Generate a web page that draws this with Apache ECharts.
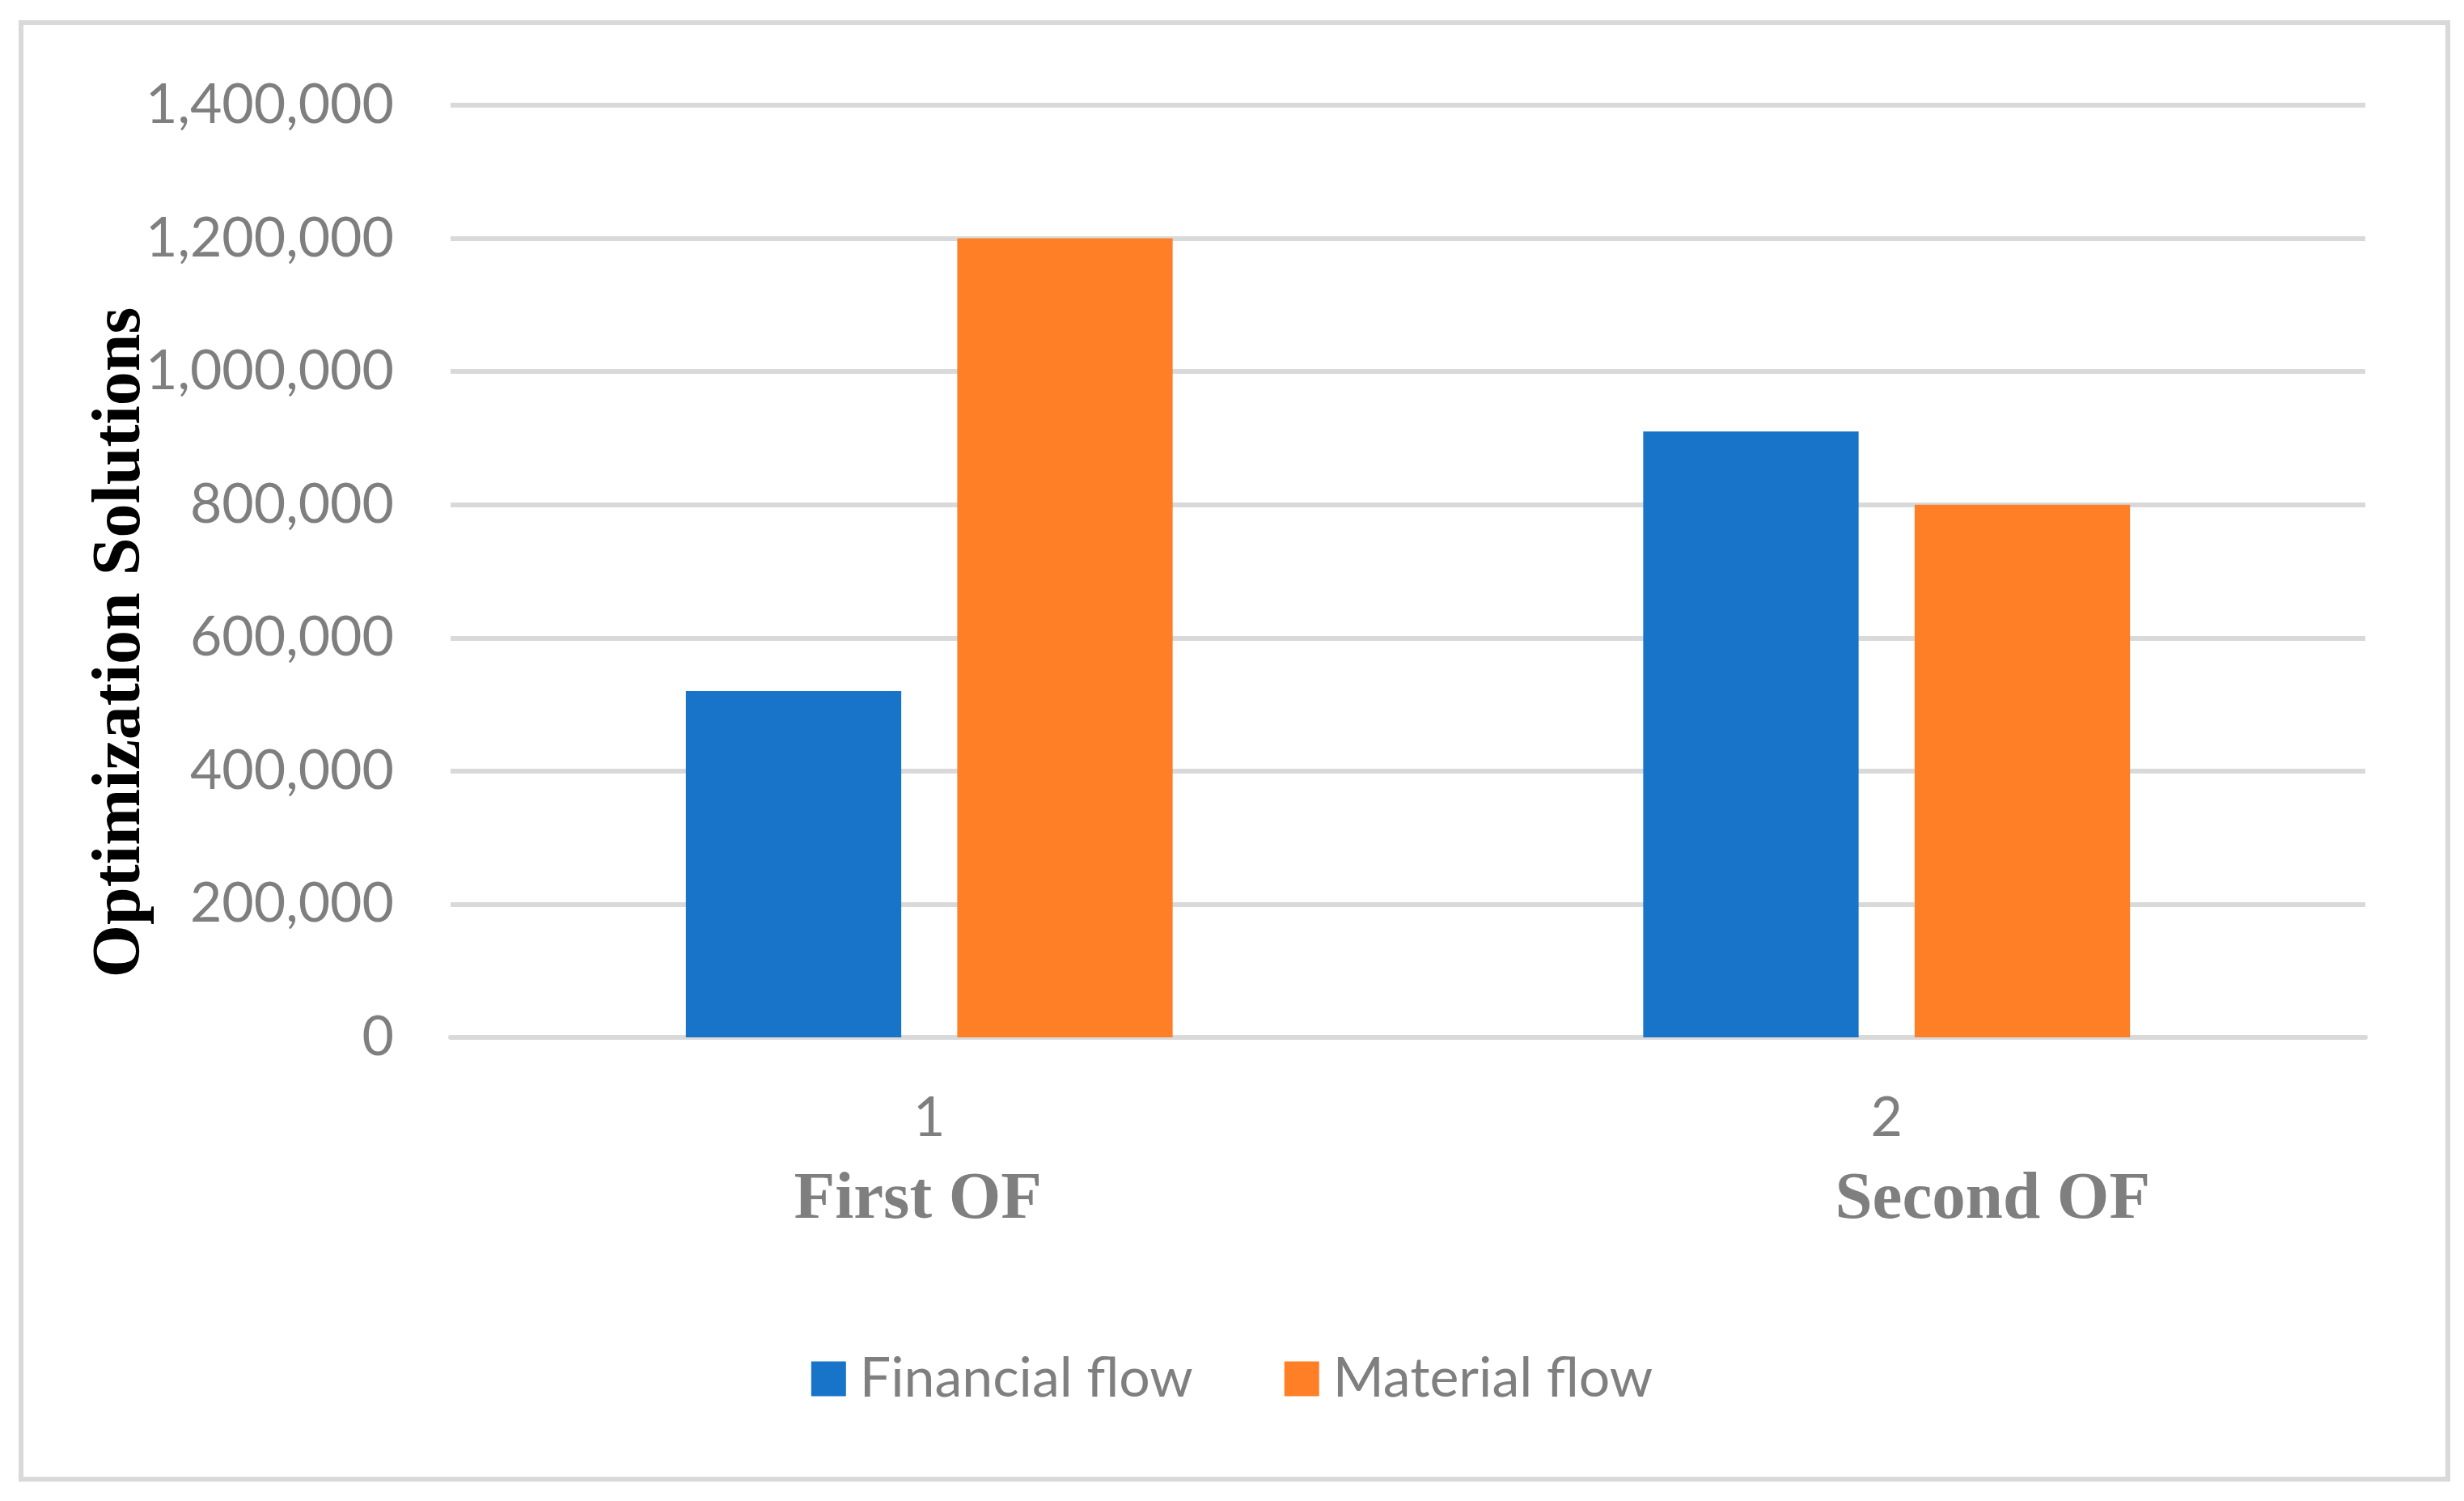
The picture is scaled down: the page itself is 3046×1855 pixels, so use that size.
<!DOCTYPE html>
<html>
<head>
<meta charset="utf-8">
<script src="https://cdn.jsdelivr.net/npm/echarts@6/dist/echarts.min.js"></script>
<style>html,body{margin:0;padding:0;background:#fff}#c{width:3046px;height:1855px}</style>
</head>
<body>
<div id="c"></div>
<script>
const categories = ['1', '2'];
const ofLabels = ['First OF', 'Second OF'];
const financialFlow = [520000, 910000];
const materialFlow = [1200000, 800000];
const seriesNames = ['Financial flow', 'Material flow'];

const chart = echarts.init(document.getElementById('c'));
const gray = '#7f7f7f';
const sans = 'Lato';
chart.setOption({
  animation: false,
  backgroundColor: '#fff',
  graphic: [{
    type: 'rect', left: 23, top: 25,
    shape: { width: 3000, height: 1800 },
    style: { fill: 'none', stroke: '#d9d9d9', lineWidth: 6 }
  }],
  grid: { left: 557, right: 122, top: 130, bottom: 573, containLabel: false },
  legend: {
    bottom: 112, left: 'center',
    itemWidth: 43, itemHeight: 43, itemGap: 113,
    icon: 'rect',
    textStyle: { fontFamily: sans, fontSize: 68, color: gray, padding: [0, 0, 0, 12] },
    data: seriesNames
  },
  xAxis: [{
    type: 'category', data: categories,
    axisLine: { lineStyle: { color: '#d9d9d9', width: 6 } },
    axisTick: { show: false },
    axisLabel: { fontFamily: sans, fontSize: 68, color: gray, margin: 66 }
  }, {
    type: 'category', data: ofLabels, position: 'bottom',
    axisLine: { show: false }, axisTick: { show: false }, splitLine: { show: false },
    axisLabel: {
      margin: 160,
      formatter: (v, i) => i === 1 ? '{b|' + v + '}' : '{a|' + v + '}',
      rich: {
        a: { fontFamily: 'Liberation Serif', fontWeight: 'bold', fontSize: 83, color: gray, padding: [0, 28, 0, 0] },
        b: { fontFamily: 'Liberation Serif', fontWeight: 'bold', fontSize: 83, color: gray, padding: [0, 0, 0, 262] }
      }
    }
  }],
  yAxis: {
    type: 'value', min: 0, max: 1400000, interval: 200000,
    name: 'Optimization Solutions', nameLocation: 'middle', nameRotate: 90, nameGap: 365,
    nameMoveOverlap: false,
    nameTextStyle: { fontFamily: 'Liberation Serif', fontWeight: 'bold', fontSize: 84, color: '#000', padding: [0, 176, 0, 0] },
    axisLine: { show: false }, axisTick: { show: false },
    splitLine: { lineStyle: { color: '#d9d9d9', width: 6 } },
    axisLabel: { fontFamily: sans, fontSize: 68, color: gray, margin: 70,
      formatter: v => v.toLocaleString('en-US') }
  },
  series: [{
    name: seriesNames[0], type: 'bar', data: financialFlow, xAxisIndex: 0,
    barWidth: '22.5%', barGap: '26%', itemStyle: { color: '#1874c9' }
  }, {
    name: seriesNames[1], type: 'bar', data: materialFlow, xAxisIndex: 0,
    barWidth: '22.5%', barGap: '26%', itemStyle: { color: '#ff7f27' }
  }]
});
</script>
</body>
</html>
